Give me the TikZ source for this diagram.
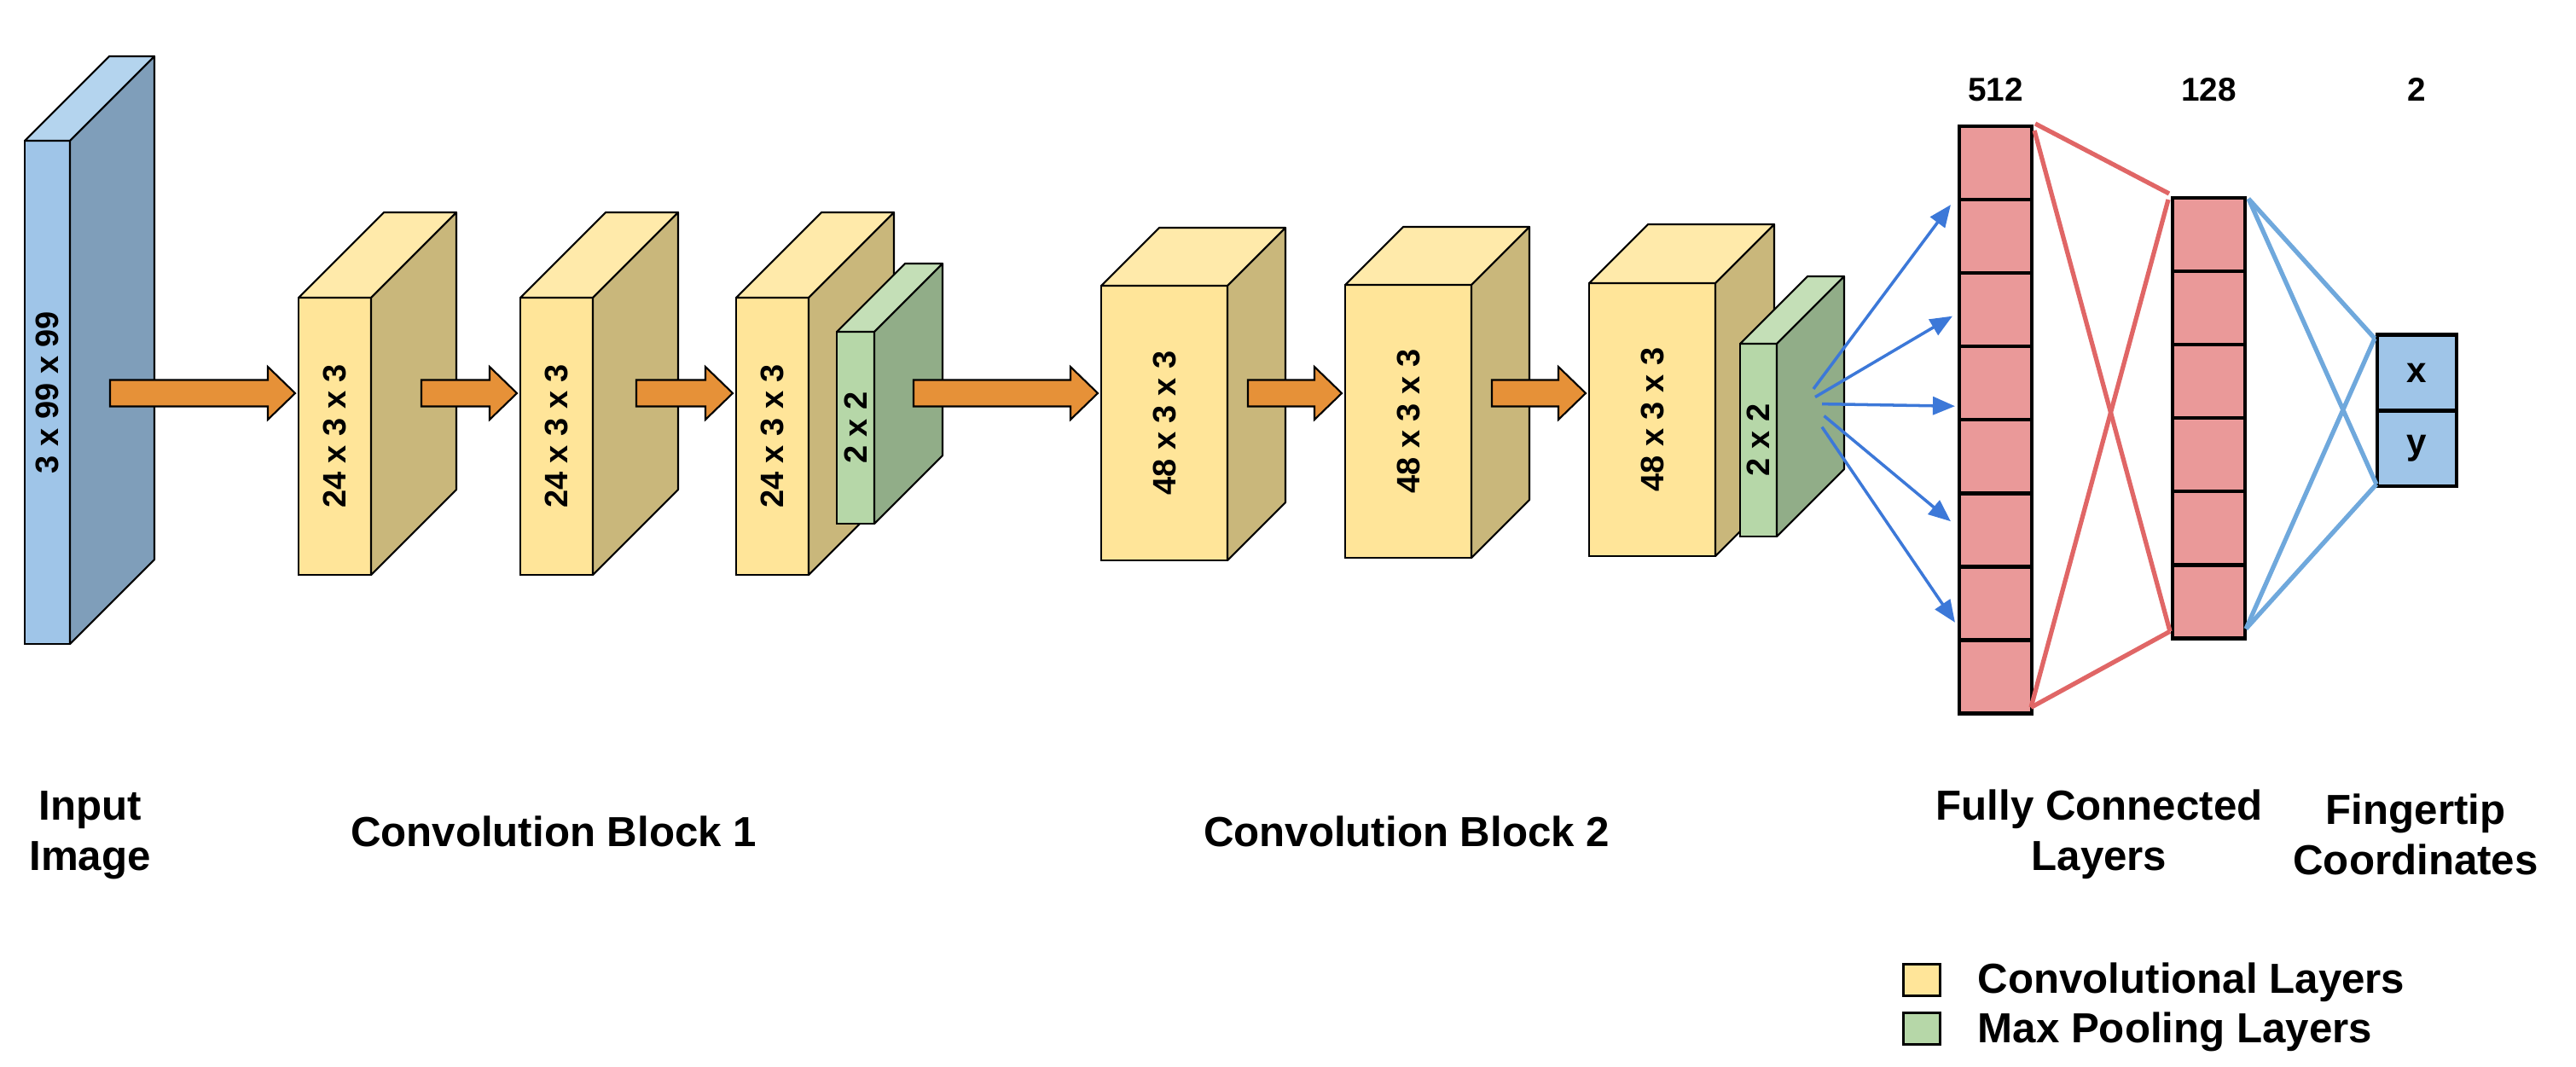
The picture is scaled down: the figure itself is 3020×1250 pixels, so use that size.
\documentclass[tikz,border=0pt]{standalone}
\usepackage{fontspec}
\setmainfont{Liberation Sans}
\usepackage{tikz}
\usepackage{graphicx}
\usetikzlibrary{arrows.meta, calc, positioning}

\definecolor{blueFront}{HTML}{9FC5E8}
\definecolor{blueTop}{HTML}{B4D4EE}
\definecolor{blueSide}{HTML}{7F9EBA}
\definecolor{yellowFront}{HTML}{FFE599}
\definecolor{yellowTop}{HTML}{FFEAAA}
\definecolor{yellowSide}{HTML}{C9B77B}
\definecolor{greenFront}{HTML}{B6D7A8}
\definecolor{greenTop}{HTML}{C4DFB7}
\definecolor{greenSide}{HTML}{91AD88}
\definecolor{flowOrange}{HTML}{E69138}
\definecolor{fcPink}{HTML}{EA9999}
\definecolor{outBlue}{HTML}{9FC5E8}
\definecolor{linkRed}{HTML}{E06666}
\definecolor{linkBlue}{HTML}{6FA8DC}
\definecolor{fanBlue}{HTML}{3C78D8}

\tikzstyle{frontface} = [rectangle, draw=black, line width=0.6pt, inner sep=0pt, outer sep=0pt, font=\bfseries\fontsize{10.8}{13}\selectfont]
\tikzstyle{slab} = [draw=black, line width=0.6pt, line join=round]
\tikzstyle{flowarrow} = [draw=black, line width=0.6pt, fill=flowOrange]
\tikzstyle{fccell} = [rectangle, draw=black, line width=1.3pt, fill=fcPink, minimum width=0.85cm, minimum height=0.86cm, inner sep=0pt, outer sep=0pt, node distance=0.86cm]
\tikzstyle{outcell} = [rectangle, draw=black, line width=1.3pt, fill=outBlue, minimum width=0.93cm, minimum height=0.885cm, inner sep=0pt, outer sep=0pt, node distance=0.885cm, font=\bfseries\fontsize{12}{14}\selectfont]
\tikzstyle{fan} = [line width=1pt, fanBlue, -{Triangle[length=0.26cm, width=0.21cm]}]
\tikzstyle{redlink} = [line width=1.5pt, linkRed]
\tikzstyle{bluelink} = [line width=1.5pt, linkBlue]
\tikzstyle{headlabel} = [inner sep=0pt, font=\bfseries\fontsize{11}{13}\selectfont]
\tikzstyle{captext} = [inner sep=0pt, align=center, font=\bfseries\fontsize{14}{16.8}\selectfont]
\tikzstyle{legendbox} = [rectangle, draw=black, line width=0.85pt, minimum width=0.43cm, minimum height=0.37cm, inner sep=0pt, outer sep=0pt]
\tikzstyle{legendtext} = [inner sep=0pt, anchor=base west, font=\bfseries\fontsize{14}{16.8}\selectfont]

% name, x, y, width, height, depth, colour, label
\newcommand{\cuboid}[8]{%
  \node (#1) [frontface, fill=#7Front, minimum width=#4*0.01cm, minimum height=#5*0.01cm] at (#2,#3) {\rotatebox{90}{#8}};
  \draw [slab, fill=#7Top] (#1.north west) -- ++(#6,-#6) -- ++(#4,0) -- (#1.north east) -- cycle;
  \draw [slab, fill=#7Side] (#1.north east) -- ++(#6,-#6) -- ++(0,#5) -- (#1.south east) -- cycle;
}
% target, length
\newcommand{\flow}[2]{%
  \draw [flowarrow] ($(#1.west |- axis)+(-4,0)$) -- +(-32,-31) -- +(-32,-15.5) -- +(-#2,-15.5) -- +(-#2,15.5) -- +(-32,15.5) -- +(-32,31) -- cycle;
}

\begin{document}
\begin{tikzpicture}[x=0.01cm, y=-0.01cm]
		\useasboundingbox (0,0) rectangle (3020,1250);
		\coordinate (axis) at (0,461);
		
		\cuboid{input}{55.5}{460}{53}{590}{99}{blue}{3 x 99 x 99}
		\cuboid{convA}{392.5}{511.5}{85}{325}{100}{yellow}{24 x 3 x 3}
		\cuboid{convB}{652.5}{511.5}{85}{325}{100}{yellow}{24 x 3 x 3}
		\cuboid{convC}{905.5}{511.5}{85}{325}{100}{yellow}{24 x 3 x 3}
		\cuboid{poolA}{1003}{501.5}{44}{225}{80}{green}{2 x 2}
		\cuboid{convD}{1365}{496}{148}{322}{68}{yellow}{48 x 3 x 3}
		\cuboid{convE}{1651}{494}{148}{320}{68}{yellow}{48 x 3 x 3}
		\cuboid{convF}{1937}{492}{148}{320}{69}{yellow}{48 x 3 x 3}
		\cuboid{poolB}{2061.5}{516}{43}{226}{79}{green}{2 x 2}
		
		\flow{convA}{217}
		\flow{convB}{112}
		\flow{convC}{113}
		\flow{convD}{216}
		\flow{convE}{110}
		\flow{convF}{110}
		
		\node (fcA1) [fccell] at (2339.5,191) {};
		\node (fcA2) [fccell, below of=fcA1] {};
		\node (fcA3) [fccell, below of=fcA2] {};
		\node (fcA4) [fccell, below of=fcA3] {};
		\node (fcA5) [fccell, below of=fcA4] {};
		\node (fcA6) [fccell, below of=fcA5] {};
		\node (fcA7) [fccell, below of=fcA6] {};
		\node (fcA8) [fccell, below of=fcA7] {};
		\node (fcB1) [fccell] at (2589.5,275) {};
		\node (fcB2) [fccell, below of=fcB1] {};
		\node (fcB3) [fccell, below of=fcB2] {};
		\node (fcB4) [fccell, below of=fcB3] {};
		\node (fcB5) [fccell, below of=fcB4] {};
		\node (fcB6) [fccell, below of=fcB5] {};
		\node (outX) [outcell] at (2833.5,437) {x};
		\node (outY) [outcell, below of=outX] {y};
		
		\draw [fan] ([shift={(43,-60)}]poolB.east) -- ([shift={(-10,6)}]fcA2.north west);
		\draw [fan] ([shift={(45,-50.5)}]poolB.east) -- ([shift={(-8,7.5)}]fcA3.west);
		\draw [fan] ([shift={(53,-42.4)}]poolB.east) -- ([shift={(-5,-16)}]fcA4.south west);
		\draw [fan] ([shift={(55.5,-28.4)}]poolB.east) -- ([shift={(-10,-10)}]fcA6.west);
		\draw [fan] ([shift={(53,-15.4)}]poolB.east) -- ([shift={(-5,22.5)}]fcA7.west);
		
		\draw [redlink] ([shift={(4,-3)}]fcA1.north east) -- ([shift={(-4,-5)}]fcB1.north west);
		\draw [redlink] ([shift={(3,5)}]fcA1.north east) -- ([shift={(-3,-8)}]fcB6.south west);
		\draw [redlink] ([shift={(-1,-7)}]fcA8.south east) -- ([shift={(-5,2)}]fcB1.north west);
		\draw [redlink] ([shift={(-1,-7)}]fcA8.south east) -- ([shift={(-3,-8)}]fcB6.south west);
		\draw [bluelink] ([shift={(4,1)}]fcB1.north east) -- ([shift={(-3,4)}]outX.north west);
		\draw [bluelink] ([shift={(4,1)}]fcB1.north east) -- ([shift={(-1,-2)}]outY.south west);
		\draw [bluelink] ([shift={(1,-11)}]fcB6.south east) -- ([shift={(-3,4)}]outX.north west);
		\draw [bluelink] ([shift={(1,-11)}]fcB6.south east) -- ([shift={(-1,-2)}]outY.south west);
		
		\node (sizeA) [headlabel, above=0.28cm of fcA1] {512};
		\node (sizeB) [headlabel, above=1.12cm of fcB1] {128};
		\node (sizeC) [headlabel, above=2.73cm of outX] {2};
		
		\node (capInput) [captext] at (105.5,979) {Input\\Image};
		\node (capBlockA) [captext] at (649,975) {Convolution Block 1};
		\node (capBlockB) [captext] at (1649,975) {Convolution Block 2};
		\node (capFC) [captext] at (2461,978) {Fully Connected\\Layers};
		\node (capOut) [captext] at (2832,978) {Fingertip\\Coordinates};
		
		\node (legConv) [legendbox, fill=yellowFront] at (2252.5,1148.5) {};
		\node (legPool) [legendbox, fill=greenFront, below of=legConv, node distance=0.57cm] {};
		\node (legConvText) [legendtext] at (2318,1164) {Convolutional Layers};
		\node (legPoolText) [legendtext] at (2318,1222) {Max Pooling Layers};
	\end{tikzpicture}
\end{document}
